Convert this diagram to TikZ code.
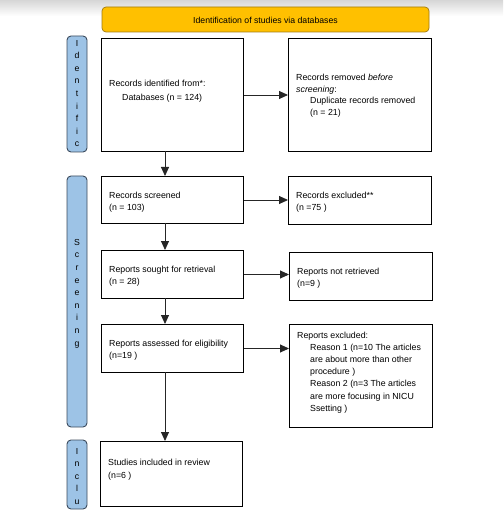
\documentclass[tikz,border=0pt]{standalone}
\usepackage{fontspec}
\setmainfont{Liberation Sans}
\usetikzlibrary{arrows.meta}
\definecolor{banner}{HTML}{FFC000}
\definecolor{bannerline}{HTML}{A07A10}
\definecolor{side}{HTML}{9DC3E6}
\definecolor{sideline}{HTML}{3B4A5C}
\definecolor{topgray}{HTML}{D6D6D6}
\tikzset{
  box/.style={draw=black, line width=1pt, fill=white},
  sidebox/.style={draw=sideline, fill=side, line width=0.9pt, rounded corners=4pt},
  bannerbox/.style={draw=bannerline, fill=banner, line width=0.7pt, rounded corners=4pt},
  lbl/.style={font=\fontsize{8.8}{11.6}\selectfont, anchor=north west, align=left, inner sep=0pt},
  sidetxt/.style={font=\fontsize{8.7}{12.6}\selectfont, align=center, inner sep=0pt},
  arr/.style={draw=black!85, line width=0.9pt, -{Triangle[length=9pt,width=8pt]}},
}
\begin{document}
\begin{tikzpicture}[x=1pt,y=-1pt]
\useasboundingbox (0,0) rectangle (503,518);
\fill[top color=topgray, bottom color=white] (0,0) rectangle (503,16);
% banner
\path[bannerbox] (102,7) rectangle (429,32);
\node[inner sep=0pt, font=\fontsize{8.7}{10}\selectfont] (ban) at (265.5,20) {Identification of studies via databases};
% side boxes
\path[sidebox] (67,36) rectangle (87,152);
\node[sidetxt, anchor=north] (sid) at (77,40) {I\\d\\e\\n\\t\\i\\f\\i\\c};
\path[sidebox] (67,176) rectangle (87,427);
\node[sidetxt, anchor=north] (sscr) at (77,239) {S\\c\\r\\e\\e\\n\\i\\n\\g};
\path[sidebox] (67,440) rectangle (87,509);
\node[sidetxt, anchor=north] (sinc) at (77,448) {I\\n\\c\\l\\u};
% boxes
\node[box, minimum width=142pt, minimum height=113pt, anchor=north west, inner sep=0pt] (b1) at (101,38) {};
\node[box, minimum width=143pt, minimum height=113pt, anchor=north west, inner sep=0pt] (b2) at (288,38) {};
\node[box, minimum width=142pt, minimum height=47pt, anchor=north west, inner sep=0pt] (b3) at (101,176) {};
\node[box, minimum width=143pt, minimum height=48pt, anchor=north west, inner sep=0pt] (b4) at (288,176) {};
\node[box, minimum width=142pt, minimum height=48pt, anchor=north west, inner sep=0pt] (b5) at (101,250) {};
\node[box, minimum width=143pt, minimum height=48pt, anchor=north west, inner sep=0pt] (b6) at (289,252) {};
\node[box, minimum width=142pt, minimum height=48pt, anchor=north west, inner sep=0pt] (b7) at (101,324) {};
\node[box, minimum width=143pt, minimum height=103pt, anchor=north west, inner sep=0pt] (b8) at (289,324) {};
\node[box, minimum width=142pt, minimum height=65pt, anchor=north west, inner sep=0pt] (b9) at (100,441) {};
% texts
\node[lbl, font=\fontsize{8.8}{13.5}\selectfont] (t1) at (109,80) {Records identified from*:\\\hspace{13pt}Databases (n = 124)};
\node[lbl] (t2) at (296,74) {Records removed \textit{before}\\\textit{screening}:\\\hspace{14pt}Duplicate records removed\\\hspace{14pt}(n = 21)};
\node[lbl] (t3) at (109,192) {Records screened\\(n = 103)};
\node[lbl] (t4) at (296,192) {Records excluded**\\(n =75 )};
\node[lbl] (t5) at (109,266) {Reports sought for retrieval\\(n = 28)};
\node[lbl] (t6) at (297,268) {Reports not retrieved\\(n=9 )};
\node[lbl] (t7) at (109,340) {Reports assessed for eligibility\\(n=19 )};
\node[lbl, font=\fontsize{8.8}{12.1}\selectfont] (t8) at (297,332) {Reports excluded:\\\hspace{13pt}Reason 1 (n=10 The articles\\\hspace{13pt}are about more than other\\\hspace{13pt}procedure )\\\hspace{13pt}Reason 2 (n=3 The articles\\\hspace{13pt}are more focusing in NICU\\\hspace{13pt}Ssetting )};
\node[lbl, font=\fontsize{8.8}{13}\selectfont] (t9) at (108,459) {Studies included in review\\(n=6 )};
% arrows
\draw[arr] (b1.east) -- (b2.west);
\draw[arr] (b3.east) -- (b4.west |- b3.east);
\draw[arr] (b5.east) -- (b6.west |- b5.east);
\draw[arr] (b7.east) -- (b8.west |- b7.east);
\draw[arr] (165,151) -- (165,176);
\draw[arr] (165,223) -- (165,250);
\draw[arr] (165,298) -- (165,324);
\draw[arr] (165,372) -- (165,441);
\end{tikzpicture}
\end{document}
